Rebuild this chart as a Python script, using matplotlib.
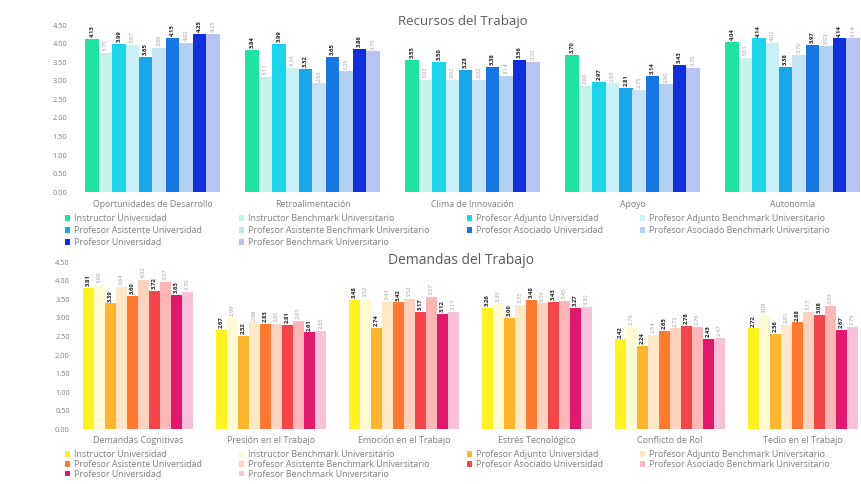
import matplotlib
matplotlib.use("Agg")
import matplotlib.pyplot as plt
import numpy as np
from matplotlib.patches import Patch

plt.rcParams['font.family'] = ['Open Sans', 'DejaVu Sans']

series = ["Instructor Universidad", "Instructor Benchmark Universitario",
          "Profesor Adjunto Universidad", "Profesor Adjunto Benchmark Universitario",
          "Profesor Asistente Universidad", "Profesor Asistente Benchmark Universitario",
          "Profesor Asociado Universidad", "Profesor Asociado Benchmark Universitario",
          "Profesor Universidad", "Profesor Benchmark Universitario"]

rec_categories = ["Oportunidades de Desarrollo", "Retroalimentación", "Clima de Innovación",
                  "Apoyo", "Autonomía"]
rec_values = [
    [4.13, 3.84, 3.55, 3.70, 4.04],   # Instructor Universidad
    [3.75, 3.11, 3.02, 2.86, 3.61],   # Instructor Benchmark
    [3.99, 3.99, 3.50, 2.97, 4.14],   # Adjunto Universidad
    [3.97, 3.34, 3.02, 2.93, 4.02],   # Adjunto Benchmark
    [3.65, 3.32, 3.28, 2.81, 3.38],   # Asistente Universidad
    [3.88, 2.93, 3.02, 2.75, 3.70],   # Asistente Benchmark
    [4.15, 3.65, 3.38, 3.14, 3.97],   # Asociado Universidad
    [4.02, 3.25, 3.14, 2.90, 3.93],   # Asociado Benchmark
    [4.25, 3.86, 3.56, 3.43, 4.14],   # Profesor Universidad
    [4.25, 3.79, 3.50, 3.35, 4.14],   # Profesor Benchmark
]

dem_categories = ["Demandas Cognitivas", "Presión en el Trabajo", "Emoción en el Trabajo",
                  "Estrés Tecnológico", "Conflicto de Rol", "Tedio en el Trabajo"]
dem_values = [
    [3.81, 2.67, 3.48, 3.26, 2.42, 2.72],
    [3.88, 2.99, 3.52, 3.39, 2.76, 3.08],
    [3.39, 2.52, 2.74, 3.00, 2.24, 2.56],
    [3.84, 2.88, 3.43, 3.35, 2.54, 2.81],
    [3.60, 2.83, 3.42, 3.48, 2.65, 2.88],
    [4.02, 2.85, 3.52, 3.39, 2.72, 3.17],
    [3.72, 2.81, 3.17, 3.43, 2.78, 3.08],
    [3.97, 2.91, 3.57, 3.45, 2.76, 3.33],
    [3.63, 2.61, 3.12, 3.27, 2.43, 2.67],
    [3.70, 2.65, 3.17, 3.30, 2.47, 2.76],
]

yticks = [0.0, 0.5, 1.0, 1.5, 2.0, 2.5, 3.0, 3.5, 4.0, 4.5]

rec_colors = ["#1EE3A2", "#C6F4E4", "#1DD3EA", "#C8F1F8", "#18A6EA", "#C4E3F7",
              "#1777E2", "#B4D0F2", "#0E2FD9", "#B6C4F3"]
dem_colors = ["#FFF122", "#FFFAD2", "#FFB62E", "#FFE8C8", "#FF7A30", "#FFD2C0",
              "#F2464A", "#FFB6B6", "#E0196C", "#F9C2DA"]

# row-major legend order for 4 columns
legend_order = [0, 4, 8, 1, 5, 9, 2, 6, 3, 7]

W, H = 862, 484
fig = plt.figure(figsize=(W / 100, H / 100), dpi=100)

grey = "#7f7f7f"


def draw(rect, cats, vals, colors, xlim, gw, title, title_xy, leg_y, rowspacing, tsize,
         xpad, catsize):
    ax = fig.add_axes(rect)
    n = len(vals)
    bw = gw / n
    x = np.arange(len(cats))
    for i, (v, c) in enumerate(zip(vals, colors)):
        pos = x - gw / 2 + bw * (i + 0.5)
        ax.bar(pos, v, width=bw, color=c, label=series[i])
        bench = (i % 2 == 1)
        for px, val in zip(pos, v):
            ax.text(px, val + 0.05, f"{val:.2f}", rotation=90, ha="center", va="bottom",
                    fontsize=4.2, color=("#a0a0a0" if bench else "#222222"),
                    fontweight=("normal" if bench else "bold"), clip_on=False)
    ax.set_xlim(*xlim)
    ax.set_ylim(0, 4.5)
    ax.set_yticks(yticks)
    ax.set_yticklabels([f"{t:.2f}" for t in yticks], fontsize=5.3, color=grey)
    ax.set_xticks(x)
    ax.set_xticklabels(cats, fontsize=catsize, color=grey)
    ax.tick_params(length=0, pad=6)
    ax.tick_params(axis="x", pad=xpad)
    for s in ax.spines.values():
        s.set_visible(False)
    fig.text(title_xy[0] / W, 1 - title_xy[1] / H, title, ha="center", va="center",
             fontsize=tsize, color="#595959")
    handles = [Patch(facecolor=colors[k], edgecolor="none") for k in legend_order]
    labels = [series[k] for k in legend_order]
    fig.legend(handles, labels, loc="upper left", bbox_to_anchor=(65 / W, 1 - leg_y / H),
               ncol=4, frameon=False, fontsize=6.4, handlelength=0.6, handleheight=0.6,
               handletextpad=0.4, columnspacing=4.2, labelspacing=rowspacing,
               labelcolor=grey, borderaxespad=0, borderpad=0)
    return ax


draw([75.7 / W, 1 - 192.3 / H, (861.3 - 75.7) / W, (192.3 - 25) / H],
     rec_categories, rec_values, rec_colors, (-0.48, 4.43), 0.84,
     "Recursos del Trabajo", (463, 21), 214, 0.35, 9.5, 5.5, 6.3)

draw([78.2 / W, 1 - 429.3 / H, (861.5 - 78.2) / W, (429.3 - 262.3) / H],
     dem_categories, dem_values, dem_colors, (-0.45, 5.44), 0.83,
     "Demandas del Trabajo", (461, 260), 450, 0.1, 10, 4.5, 6.5)

fig.savefig("out.png", dpi=100)
